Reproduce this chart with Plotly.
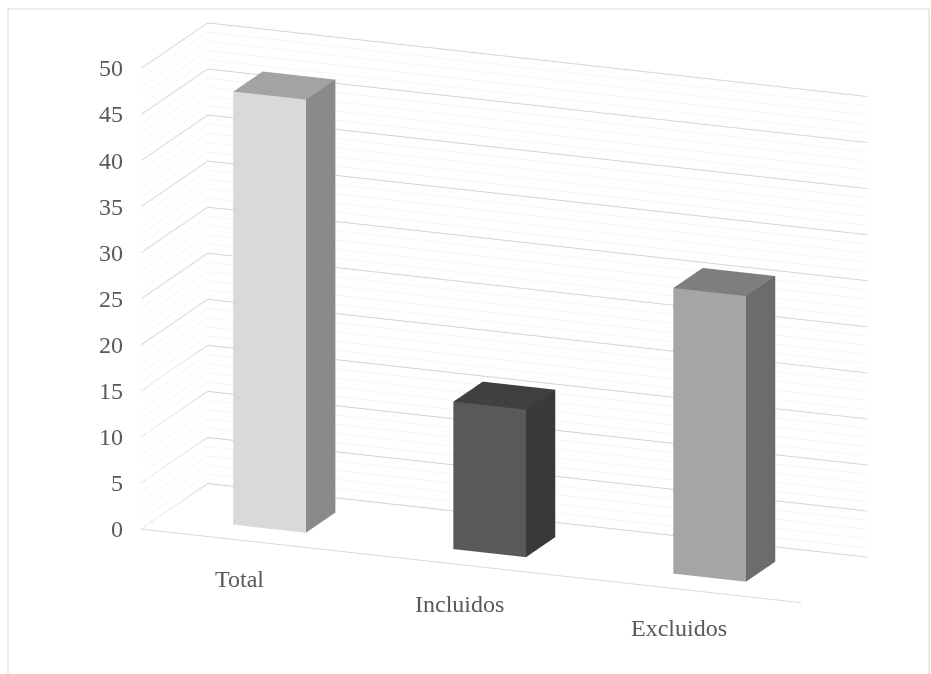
import plotly.graph_objects as go

# ---- data ----
categories = ["Total", "Incluidos", "Excluidos"]
values = [47, 16, 31]
z_ticks = list(range(0, 51))
z_major = list(range(0, 51, 5))

# ---- styles ----
front_colors = ["#D9D9D9", "#595959", "#A5A5A5"]
side_colors = ["#8A8A8A", "#3A3A3A", "#6C6C6C"]
top_colors = ["#A3A3A3", "#404040", "#7E7E7E"]

BAR_W = 0.33
DEPTH = 0.75
BAR_D0, BAR_D1 = 0.21, 0.54
X_MIN, X_MAX = -0.5, len(categories) - 0.5
Z_MAX = 50

fig = go.Figure()

for i, (cat, v) in enumerate(zip(categories, values)):
    x0, x1 = i - BAR_W / 2, i + BAR_W / 2
    y0, y1 = BAR_D0, BAR_D1
    xs = [x0, x1, x1, x0, x0, x1, x1, x0]
    ys = [y0, y0, y1, y1, y0, y0, y1, y1]
    zs = [0, 0, 0, 0, v, v, v, v]
    tri = [
        (0, 1, 5), (0, 5, 4),   # front
        (1, 2, 6), (1, 6, 5),   # right
        (4, 5, 6), (4, 6, 7),   # top
        (3, 7, 6), (3, 6, 2),   # back
        (0, 4, 7), (0, 7, 3),   # left
        (0, 3, 2), (0, 2, 1),   # bottom
    ]
    fc = ([front_colors[i]] * 2 + [side_colors[i]] * 2 + [top_colors[i]] * 2
          + [side_colors[i]] * 6)
    fig.add_trace(go.Mesh3d(
        x=xs, y=ys, z=zs,
        i=[t[0] for t in tri], j=[t[1] for t in tri], k=[t[2] for t in tri],
        facecolor=fc, flatshading=True,
        lighting=dict(ambient=1, diffuse=0, specular=0, roughness=1, fresnel=0),
        hoverinfo="skip", name=cat, showscale=False,
    ))

# major gridlines (every 5) on the back and left walls
gx, gy, gz = [], [], []
for z in z_major:
    gx += [X_MIN, X_MIN, X_MAX, None]
    gy += [0, DEPTH, DEPTH, None]
    gz += [z, z, z, None]
fig.add_trace(go.Scatter3d(
    x=gx, y=gy, z=gz, mode="lines",
    line=dict(color="#D0D0D0", width=2),
    hoverinfo="skip", showlegend=False,
))

font = dict(family="Liberation Serif", size=24, color="#595959")

# axis labels as scene annotations anchored to data coordinates
annotations = []
for i, cat in enumerate(categories):
    annotations.append(dict(x=i, y=0, z=0, text=cat, showarrow=False,
                            xshift=-12, yshift=-38, font=font))
for z in z_major:
    annotations.append(dict(x=X_MIN, y=0, z=z, text=str(z), showarrow=False,
                            xanchor="right", xshift=-16, font=font))

K = 0.704
R = 3.6
DIR = (0.360, -0.891, 0.276)
CEN = (-0.0995, -0.0616, -0.0691)
fig.update_layout(
    width=931, height=674,
    margin=dict(l=0, r=0, t=0, b=0),
    paper_bgcolor="white",
    showlegend=False,
    hovermode=False,
    scene=dict(
        domain=dict(x=[0, 1], y=[0, 1]),
        xaxis=dict(range=[X_MIN, X_MAX], tickvals=list(range(len(categories))),
                   showticklabels=False, showgrid=False, zeroline=False,
                   showline=True, linecolor="#D9D9D9", linewidth=2,
                   showbackground=False, ticks="",
                   title=dict(text=""), showspikes=False),
        yaxis=dict(range=[0, DEPTH], showticklabels=False, showgrid=False,
                   zeroline=False, showline=False, showbackground=False,
                   ticks="", title=dict(text=""), showspikes=False),
        zaxis=dict(range=[0, Z_MAX], tickvals=z_ticks, showticklabels=False,
                   showgrid=True, gridcolor="#EDEDED", gridwidth=1,
                   zeroline=False, showline=False, showbackground=False,
                   ticks="", title=dict(text=""), showspikes=False),
        aspectmode="manual",
        aspectratio=dict(x=3 * K, y=DEPTH * K, z=2.02 * K),
        camera=dict(eye=dict(x=CEN[0] + DIR[0] * R, y=CEN[1] + DIR[1] * R,
                             z=CEN[2] + DIR[2] * R),
                    center=dict(x=CEN[0], y=CEN[1], z=CEN[2]),
                    up=dict(x=0, y=0, z=1),
                    projection=dict(type="orthographic")),
        annotations=annotations,
        dragmode=False,
    ),
    shapes=[dict(type="rect", xref="paper", yref="paper",
                 x0=8 / 931, x1=929 / 931, y0=-0.02, y1=1 - 9 / 674,
                 line=dict(color="#D9D9D9", width=1))],
)

fig.write_html("out.html")
